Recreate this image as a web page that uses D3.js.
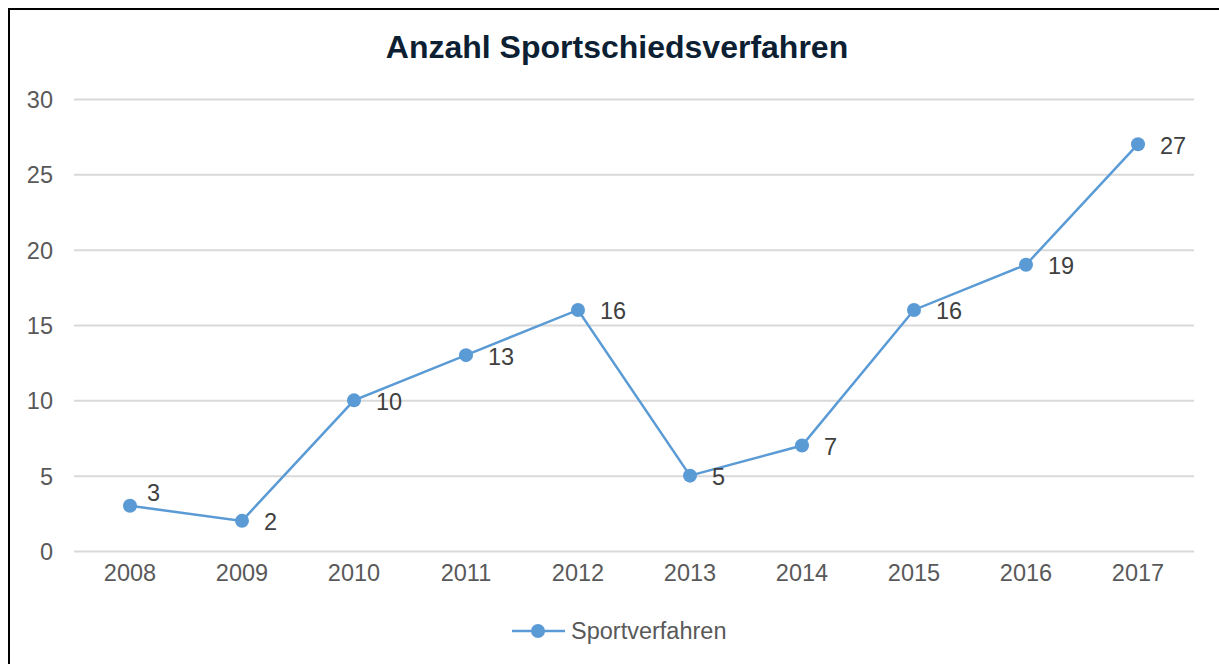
<!DOCTYPE html>
<html>
<head>
<meta charset="utf-8">
<script src="https://cdn.jsdelivr.net/npm/d3@7"></script>
<style>
  body { margin: 0; background: #fff; }
  svg { display: block; font-family: "Liberation Sans", Arial, sans-serif; }
</style>
</head>
<body>
<div id="chart"></div>
<script>
// chart data
const years = ["2008", "2009", "2010", "2011", "2012", "2013", "2014", "2015", "2016", "2017"];
const values = [3, 2, 10, 13, 16, 5, 7, 16, 19, 27];
const yTicks = [0, 5, 10, 15, 20, 25, 30];
const seriesName = "Sportverfahren";
const title = "Anzahl Sportschiedsverfahren";

const width = 1219, height = 664;
const margin = { top: 99, right: 24, bottom: 113, left: 74 };
const lineColor = "#5b9bd5";
const labelSize = "23.5px";

const svg = d3.select("#chart").append("svg")
  .attr("width", width)
  .attr("height", height);

// outer frame (runs off the right and bottom edge like the source)
svg.append("rect")
  .attr("x", 9).attr("y", 9)
  .attr("width", width + 20).attr("height", height + 20)
  .attr("fill", "#fff")
  .attr("stroke", "#000")
  .attr("stroke-width", 2);

const x = d3.scaleBand()
  .domain(years)
  .range([margin.left, width - margin.right - 1]);

const y = d3.scaleLinear()
  .domain([0, 30])
  .range([height - margin.bottom, margin.top]);

// title
svg.append("text")
  .attr("x", 617)
  .attr("y", 58)
  .attr("text-anchor", "middle")
  .style("font-size", "32px")
  .style("font-weight", "bold")
  .style("fill", "#0d1f33")
  .text(title);

// gridlines + y labels
const yAxis = svg.append("g")
  .attr("transform", `translate(${margin.left},0)`)
  .call(d3.axisLeft(y).tickValues(yTicks).tickSize(-(x.range()[1] - margin.left)).tickPadding(21));
yAxis.select(".domain").remove();
yAxis.selectAll(".tick line").attr("stroke", "#d9d9d9").attr("stroke-width", 2);
yAxis.selectAll(".tick text")
  .style("font-size", labelSize)
  .style("fill", "#595959")
  .attr("dy", "0.36em")
  .attr("font-family", null);

// x labels
const xAxis = svg.append("g")
  .attr("transform", `translate(0,${y(0)})`)
  .call(d3.axisBottom(x).tickSize(0).tickPadding(13));
xAxis.select(".domain").remove();
xAxis.selectAll(".tick text")
  .style("font-size", labelSize)
  .style("fill", "#595959")
  .attr("font-family", null);

const pts = years.map((yr, i) => ({ yr, v: values[i] }));
const cx = d => x(d.yr) + x.bandwidth() / 2;

svg.append("path")
  .datum(pts)
  .attr("fill", "none")
  .attr("stroke", lineColor)
  .attr("stroke-width", 2.5)
  .attr("d", d3.line().x(cx).y(d => y(d.v)));

svg.selectAll(".dot")
  .data(pts)
  .join("circle")
  .attr("class", "dot")
  .attr("cx", cx)
  .attr("cy", d => y(d.v))
  .attr("r", 7)
  .attr("fill", lineColor);

// data labels, the first one sits a bit higher in the original
svg.selectAll(".lbl")
  .data(pts)
  .join("text")
  .attr("class", "lbl")
  .attr("x", (d, i) => cx(d) + (i === 0 ? 17 : 22))
  .attr("y", (d, i) => y(d.v) + (i === 0 ? -13 : 1))
  .attr("dy", "0.36em")
  .style("font-size", labelSize)
  .style("fill", "#404040")
  .text(d => d.v);

// legend
const lg = svg.append("g").attr("transform", "translate(512,631)");
lg.append("line").attr("x1", 0).attr("x2", 53).attr("stroke", lineColor).attr("stroke-width", 2.5);
lg.append("circle").attr("cx", 26).attr("r", 7).attr("fill", lineColor);
lg.append("text")
  .attr("x", 59)
  .attr("dy", "0.36em")
  .style("font-size", labelSize)
  .style("fill", "#595959")
  .text(seriesName);
</script>
</body>
</html>
